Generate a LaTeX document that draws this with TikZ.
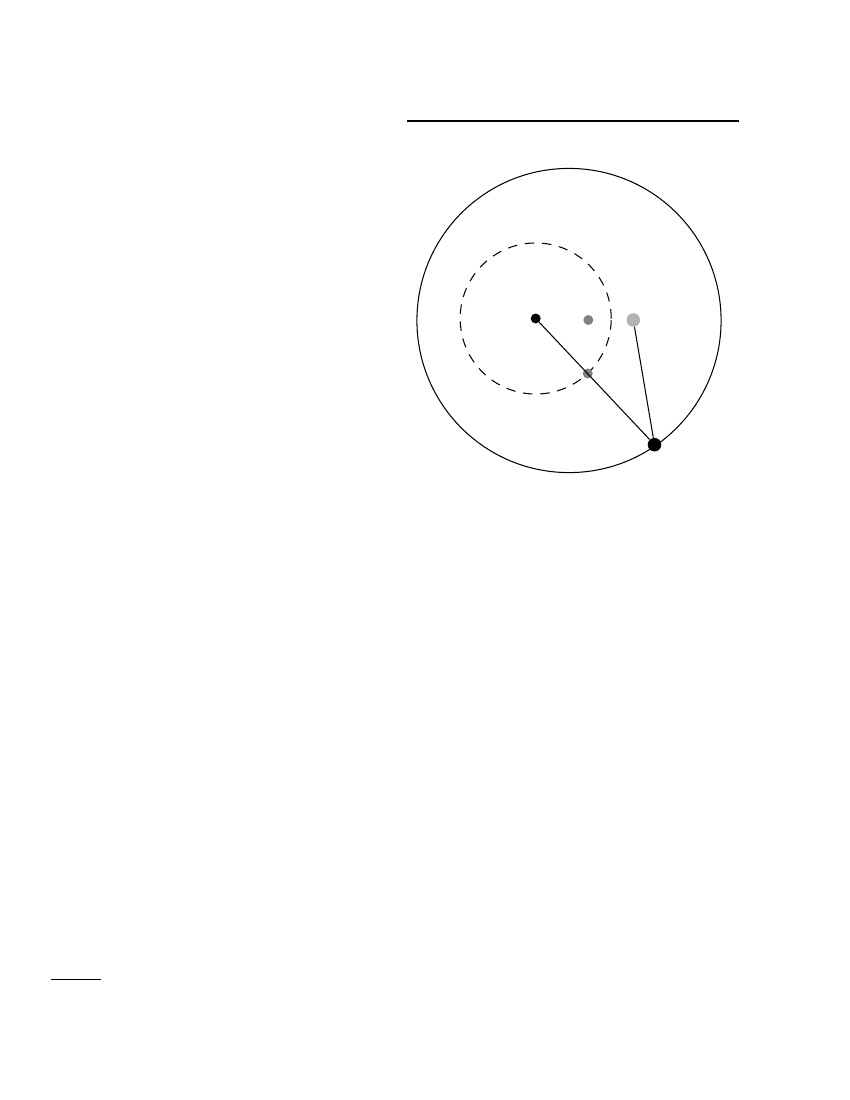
\documentclass[tikz,border=0pt]{standalone}
\begin{document}
\begin{tikzpicture}[x=0.01in,y=-0.01in,
		dot/.style={circle,fill,inner sep=0pt,minimum size=7.2pt},
		bigdot/.style={circle,fill,inner sep=0pt,minimum size=9.8pt}]
			\useasboundingbox (0,0) rectangle (850,1100);
			\draw [line width=2pt] (407,121) -- (739,121);
			\draw [line width=0.75pt] (569,320.5) circle (1.52in);
			\draw [line width=0.75pt, dash pattern=on 6.8pt off 5.6pt] (535.7,318.5) circle (0.755in);
			
			\node [dot, black!50] (P) at (588.3,320) {};
			\node [dot, black!50] (M) at (587.7,373.5) {};
			\node [bigdot, black!30] (Q) at (633.3,320) {};
			\node [dot] (O) at (535.7,318.5) {};
			\node [bigdot] (T) at (654.5,444.7) {};
			
			\draw [line width=0.75pt] (O) -- (T);
			\draw [line width=0.75pt] (Q) -- (T);
			
			\draw [line width=0.7pt] (51,979) -- (101,979);
		\end{tikzpicture}
\end{document}
